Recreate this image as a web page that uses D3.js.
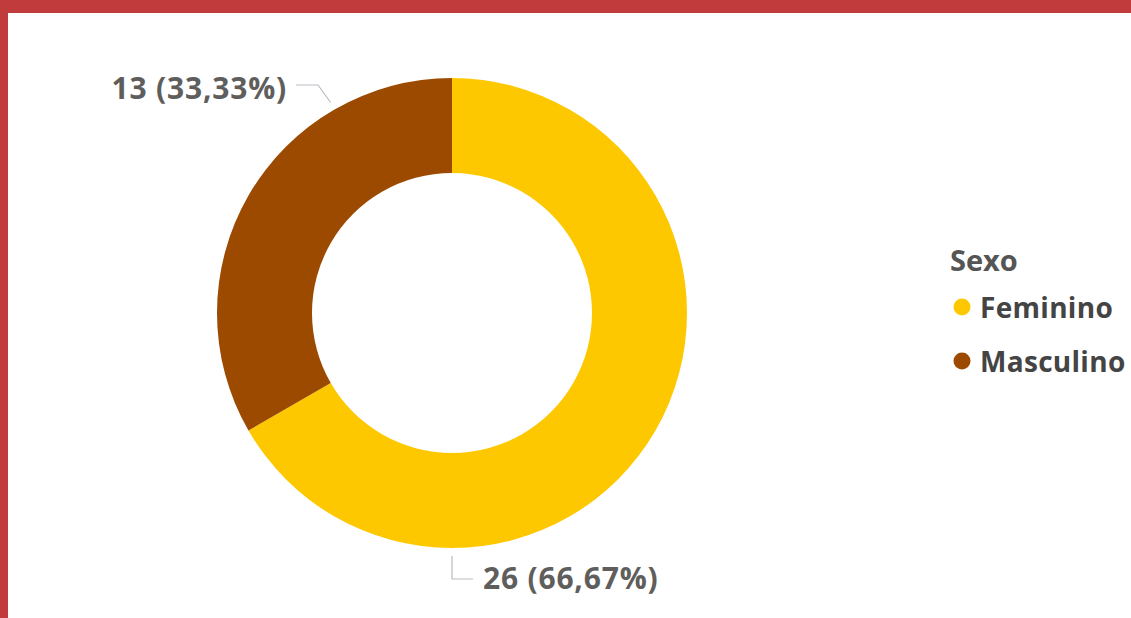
<!DOCTYPE html>
<html>
<head>
<meta charset="utf-8">
<script src="https://cdn.jsdelivr.net/npm/d3@7"></script>
<style>
  html, body { margin: 0; padding: 0; background: #fff; }
  svg { display: block; }
  text { font-family: "Open Sans", "Noto Sans", sans-serif; font-weight: 700; }
</style>
</head>
<body>
<svg id="chart" width="1131" height="618"></svg>
<script>
// Donut data: count of people by sex
const legendTitle = "Sexo";
const categories = ["Feminino", "Masculino"];
const counts = [26, 13];

const palette = ["#FDC800", "#9C4A00"];

const W = 1131, H = 618;
const cx = 452, cy = 313;
const outerR = 235, innerR = 140;

const svg = d3.select("#chart");

// frame: red band along the top and left edges
svg.append("rect").attr("x", 0).attr("y", 0).attr("width", W).attr("height", H).attr("fill", "#fff");
svg.append("rect").attr("x", 0).attr("y", 0).attr("width", W).attr("height", 13).attr("fill", "#C13A3C");
svg.append("rect").attr("x", 0).attr("y", 0).attr("width", 8).attr("height", H).attr("fill", "#C13A3C");

const color = d3.scaleOrdinal().domain(categories).range(palette);

const rows = categories.map((c, i) => ({ category: c, value: counts[i] }));
const total = d3.sum(counts);

const pie = d3.pie().value(d => d.value).sort(null);
const arc = d3.arc().innerRadius(innerR).outerRadius(outerR);
const arcs = pie(rows);

const g = svg.append("g").attr("transform", `translate(${cx},${cy})`);

g.selectAll("path.slice")
  .data(arcs)
  .join("path")
  .attr("class", "slice")
  .attr("d", arc)
  .attr("fill", d => color(d.data.category));

// data labels with leader lines
const fmtPct = v => (v / total * 100).toFixed(2).replace(".", ",") + "%";
const labelText = d => `${d.data.value} (${fmtPct(d.data.value)})`;

// leader geometry per slice: anchor angle on the ring, elbow, end, label side
const leaderLayout = {
  "Feminino":  { angle: Math.PI,            elbow: [0, 266],  end: [21, 266], anchor: "start", dx: 10, dy: -2 },
  "Masculino": { angle: Math.PI * 2 - 0.523, elbow: [-134, -228], end: [-156, -228], anchor: "end", dx: -9, dy: 2 }
};

const leaderR = outerR + 8;
arcs.forEach(d => {
  const L = leaderLayout[d.data.category];
  const sx = leaderR * Math.sin(L.angle);
  const sy = -leaderR * Math.cos(L.angle);
  g.append("polyline")
    .attr("points", [[sx, sy], L.elbow, L.end].map(p => p.join(",")).join(" "))
    .attr("fill", "none")
    .attr("stroke", "#B8BCC2")
    .attr("stroke-width", 1.2);
  g.append("text")
    .attr("x", L.end[0] + L.dx)
    .attr("y", L.end[1] + L.dy)
    .attr("text-anchor", L.anchor)
    .attr("dominant-baseline", "central")
    .attr("font-size", 30)
    .attr("letter-spacing", 0.8)
    .attr("fill", "#605E5C")
    .text(labelText(d));
});

// legend
const lg = svg.append("g").attr("transform", "translate(950,0)");
lg.append("text")
  .attr("x", 0).attr("y", 271)
  .attr("font-size", 29)
  .attr("fill", "#555555")
  .text(legendTitle);

const itemY = d3.scalePoint().domain(categories).range([307, 361]);
const items = lg.selectAll("g.item").data(categories).join("g").attr("class", "item")
  .attr("transform", c => `translate(0,${itemY(c)})`);
items.append("circle").attr("cx", 12).attr("cy", 0).attr("r", 8.5).attr("fill", c => color(c));
items.append("text")
  .attr("x", 30).attr("y", 0)
  .attr("dominant-baseline", "central")
  .attr("font-size", 28)
  .attr("letter-spacing", 0.3)
  .attr("fill", "#444444")
  .text(c => c);
</script>
</body>
</html>
